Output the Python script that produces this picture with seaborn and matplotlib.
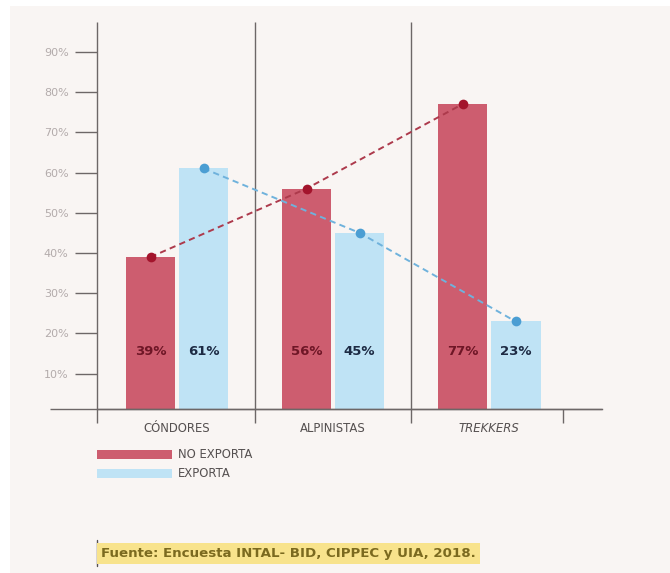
import matplotlib
matplotlib.use("Agg")
import matplotlib.pyplot as plt
from matplotlib.patches import Rectangle
from matplotlib.lines import Line2D
import seaborn as sns
import pandas as pd

# --- data -------------------------------------------------------------
categories = ["CÓNDORES", "ALPINISTAS", "TREKKERS"]
no_exporta = [39, 56, 77]
exporta = [61, 45, 23]
series_names = ["NO EXPORTA", "EXPORTA"]
y_ticks = [10, 20, 30, 40, 50, 60, 70, 80, 90]
y_tick_labels = [f"{t}%" for t in y_ticks]
source_text = "Fuente: Encuesta INTAL- BID, CIPPEC y UIA, 2018."

df = pd.DataFrame({
    "grupo": categories * 2,
    "serie": [series_names[0]] * 3 + [series_names[1]] * 3,
    "valor": no_exporta + exporta,
})

# --- style ------------------------------------------------------------
sns.set_theme(style="white")
plt.rcParams["font.family"] = ["DejaVu Sans"]

RED = "#cd5d6f"
BLUE = "#bfe3f5"
RED_DOT = "#a3142c"
BLUE_DOT = "#4b9ed3"
RED_LINE = "#ad3a4c"
BLUE_LINE = "#6fb2dc"
AXIS = "#6d6767"
PANEL = "#f9f5f3"

W, H = 670, 573
fig = plt.figure(figsize=(W / 100, H / 100), dpi=100)
fig.patch.set_facecolor("white")


def fx(px):
    return px / W


def fy(py):
    return 1 - py / H


# light panel behind the whole graphic
fig.add_artist(Rectangle((fx(10), 0), 1 - fx(10), fy(6), transform=fig.transFigure,
                         facecolor=PANEL, edgecolor="none", zorder=0))

ax = fig.add_axes([fx(97), fy(409), (602 - 97) / W, (409 - 22) / H])
ax.set_facecolor("none")

sns.barplot(data=df, x="grupo", y="valor", hue="serie", hue_order=series_names,
            order=categories, palette=[RED, BLUE], width=0.68, gap=0.06,
            saturation=1, linewidth=0, legend=False, ax=ax, zorder=2)

ax.set_xlim(-0.513, 2.724)
ax.set_ylim(1.24, 97.4)

# dashed trend lines through the top of each bar
for cont, lc, dc, tc in zip(ax.containers, [RED_LINE, BLUE_LINE], [RED_DOT, BLUE_DOT],
                            ["#6e1626", "#1d2b44"]):
    xs = [r.get_x() + r.get_width() / 2 for r in cont]
    ys = [r.get_height() for r in cont]
    ax.plot(xs, ys, ls=(0, (3.2, 2.2)), lw=1.4, color=lc, zorder=4)
    ax.plot(xs, ys, ls="none", marker="o", ms=7, color=dc, mec="none", zorder=5)
    for x, v in zip(xs, ys):
        ax.text(x, 15.6, f"{v:.0f}%", ha="center", va="center", fontsize=9.5,
                fontweight="bold", color=tc, zorder=6)

# axes and separators
for s in ["top", "right", "left"]:
    ax.spines[s].set_visible(False)
ax.spines["bottom"].set_color(AXIS)
ax.spines["bottom"].set_linewidth(1.0)
line_kw = dict(color=AXIS, lw=1.0, clip_on=False, zorder=3, solid_capstyle="butt")
for xv in [-0.513, 0.5, 1.5]:
    ax.plot([xv, xv], [-2.24, 97.4], **line_kw)
ax.plot([2.474, 2.474], [-2.24, 1.24], **line_kw)
ax.plot([-0.814, 2.724], [1.24, 1.24], **line_kw)

ax.set_yticks(y_ticks)
ax.set_yticklabels(y_tick_labels)
ax.tick_params(axis="y", left=True, direction="out", length=15.5, width=1.0,
               color=AXIS, labelsize=8, labelcolor="#b3abab", pad=5)
ax.set_xticks(range(len(categories)))
ax.set_xticklabels(categories)
ax.tick_params(axis="x", bottom=False, labelsize=8.4, labelcolor="#555050", pad=3)
ax.get_xticklabels()[2].set_fontstyle("italic")
ax.set_xlabel("")
ax.set_ylabel("")
ax.grid(False)

# legend
for (py, col, name) in [(450, RED, series_names[0]), (469, BLUE, series_names[1])]:
    fig.add_artist(Rectangle((fx(97), fy(py + 9)), 75 / W, 9 / H, transform=fig.transFigure,
                             facecolor=col, edgecolor="none"))
    fig.text(fx(178), fy(py + 4.5), name, ha="left", va="center", fontsize=8.4,
             color="#555050")

# source note
fig.add_artist(Line2D([fx(97), fx(97)], [fy(566), fy(540)], transform=fig.transFigure,
                      color="#555050", lw=1.0))
fig.text(fx(101), fy(553), source_text, ha="left", va="center", fontsize=9.6,
         fontweight="bold", color="#7b6a1f",
         bbox=dict(boxstyle="square,pad=0.3", facecolor="#f8e38c", edgecolor="none"))

fig.savefig("out.png", dpi=100, facecolor=fig.get_facecolor())
